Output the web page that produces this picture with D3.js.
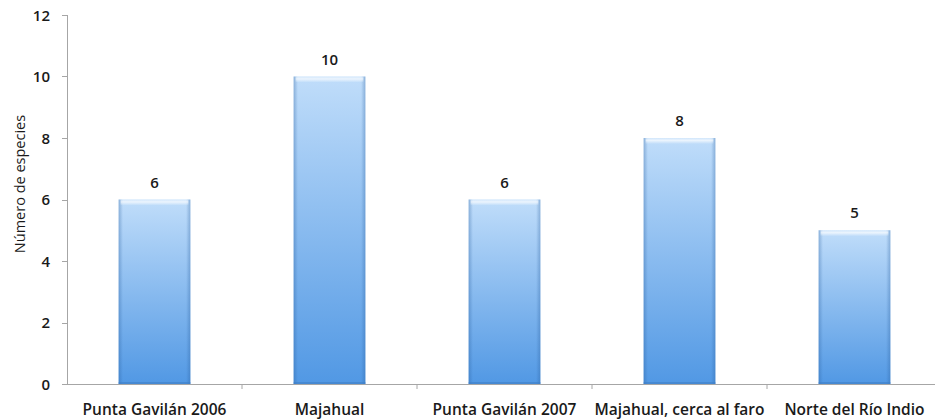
<!DOCTYPE html>
<html>
<head>
<meta charset="utf-8">
<script src="https://cdn.jsdelivr.net/npm/d3@7"></script>
<style>
  html, body { margin: 0; padding: 0; background: #fff; }
  svg { display: block; }
  text { font-family: "Open Sans", Lato, sans-serif; fill: #1a1a1a; }
</style>
</head>
<body>
<svg id="chart" width="935" height="419"></svg>
<script>
const categories = ["Punta Gavilán 2006", "Majahual", "Punta Gavilán 2007", "Majahual, cerca al faro", "Norte del Río Indio"];
const species = [6, 10, 6, 8, 5];
const yTicks = [0, 2, 4, 6, 8, 10, 12];
const yTitle = "Número de especies";

const svg = d3.select("#chart");
const W = 935, H = 419;
const plotLeft = 67, plotRight = 942, plotTop = 15, plotBottom = 384;

const x = d3.scaleBand().domain(categories).range([plotLeft, plotRight]).padding(0);
const y = d3.scaleLinear().domain([0, 12]).range([plotBottom, plotTop]);
const barW = x.bandwidth() * 0.41;

const defs = svg.append("defs");
const vg = defs.append("linearGradient").attr("id", "barFill").attr("x1", 0).attr("y1", 0).attr("x2", 0).attr("y2", 1);
vg.append("stop").attr("offset", "0%").attr("stop-color", "#c0ddfa");
vg.append("stop").attr("offset", "100%").attr("stop-color", "#5198e4");

const hg = defs.append("linearGradient").attr("id", "barEdge").attr("x1", 0).attr("y1", 0).attr("x2", 1).attr("y2", 0);
hg.append("stop").attr("offset", "0%").attr("stop-color", "#2a5f9e").attr("stop-opacity", 0.35);
hg.append("stop").attr("offset", "6%").attr("stop-color", "#2a5f9e").attr("stop-opacity", 0.0);
hg.append("stop").attr("offset", "94%").attr("stop-color", "#2a5f9e").attr("stop-opacity", 0.0);
hg.append("stop").attr("offset", "100%").attr("stop-color", "#2a5f9e").attr("stop-opacity", 0.35);

const tg = defs.append("linearGradient").attr("id", "barTop").attr("x1", 0).attr("y1", 0).attr("x2", 0).attr("y2", 1);
tg.append("stop").attr("offset", "0%").attr("stop-color", "#ffffff").attr("stop-opacity", 0.25);
tg.append("stop").attr("offset", "40%").attr("stop-color", "#ffffff").attr("stop-opacity", 0.7);
tg.append("stop").attr("offset", "100%").attr("stop-color", "#ffffff").attr("stop-opacity", 0);

// Axis lines
svg.append("line").attr("x1", plotLeft + 0.5).attr("x2", plotLeft + 0.5).attr("y1", plotTop).attr("y2", plotBottom)
  .attr("stroke", "#a6a6a6").attr("stroke-width", 1);
svg.append("line").attr("x1", plotLeft - 5).attr("x2", W).attr("y1", plotBottom + 0.5).attr("y2", plotBottom + 0.5)
  .attr("stroke", "#a6a6a6").attr("stroke-width", 1);

// Y ticks and labels
const yg = svg.append("g");
yg.selectAll("line").data(yTicks).join("line")
  .attr("x1", plotLeft - 5).attr("x2", plotLeft)
  .attr("y1", d => Math.round(y(d)) + 0.5).attr("y2", d => Math.round(y(d)) + 0.5)
  .attr("stroke", "#a6a6a6");
yg.selectAll("text").data(yTicks).join("text")
  .attr("x", 50).attr("y", d => y(d) + 5.5)
  .attr("text-anchor", "end")
  .attr("font-size", 15).attr("font-weight", 600)
  .text(d => d);

// X boundary ticks
const bounds = categories.slice(1).map(c => x(c));
svg.selectAll(".xt").data(bounds).join("line")
  .attr("x1", d => d).attr("x2", d => d)
  .attr("y1", plotBottom).attr("y2", plotBottom + 5)
  .attr("stroke", "#a6a6a6");

// Bars
const bars = svg.append("g").selectAll("g").data(categories).join("g")
  .attr("transform", (c, i) => `translate(${x(c) + (x.bandwidth() - barW) / 2},${y(species[i])})`);
bars.append("rect").attr("width", barW).attr("height", (c, i) => y(0) - y(species[i]))
  .attr("fill", "url(#barFill)");
bars.append("rect").attr("width", barW).attr("height", (c, i) => y(0) - y(species[i]))
  .attr("fill", "url(#barEdge)");
bars.append("rect").attr("x", 2).attr("width", barW - 4).attr("height", 6)
  .attr("fill", "url(#barTop)");
bars.append("rect").attr("y", (c, i) => y(0) - y(species[i]) - 2).attr("width", barW).attr("height", 2)
  .attr("fill", "#3f7fc6").attr("opacity", 0.6);

// Value labels
svg.append("g").selectAll("text").data(categories).join("text")
  .attr("x", c => x(c) + x.bandwidth() / 2)
  .attr("y", (c, i) => y(species[i]) - 12)
  .attr("text-anchor", "middle")
  .attr("font-size", 15).attr("font-weight", 600)
  .text((c, i) => species[i]);

// Category labels
svg.append("g").selectAll("text").data(categories).join("text")
  .attr("x", c => x(c) + x.bandwidth() / 2)
  .attr("y", 415)
  .attr("text-anchor", "middle")
  .attr("font-size", 15.5).attr("font-weight", 600)
  .text(c => c);

// Y axis title
svg.append("text")
  .attr("transform", `translate(25,184) rotate(-90)`)
  .attr("text-anchor", "middle")
  .attr("font-size", 14.5)
  .attr("fill", "#222")
  .text(yTitle);
</script>
</body>
</html>
